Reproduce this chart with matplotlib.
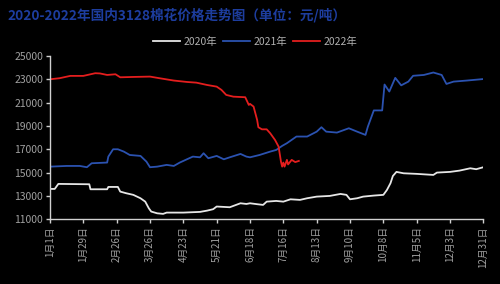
import matplotlib
matplotlib.use("Agg")
import matplotlib.pyplot as plt

plt.rcParams['font.family'] = ['Noto Sans CJK SC', 'DejaVu Sans']

title = "2020-2022年国内3128棉花价格走势图（单位：元/吨）"
tick_days = [0, 28, 56, 84, 112, 140, 168, 196, 224, 252, 280, 308, 336, 364]
tick_labels = ["1月1日", "1月29日", "2月26日", "3月26日", "4月23日", "5月21日", "6月18日",
               "7月16日", "8月13日", "9月10日", "10月8日", "11月5日", "12月3日", "12月31日"]
y_ticks = [11000, 13000, 15000, 17000, 19000, 21000, 23000, 25000]

days_2020 = [0, 4, 7, 33, 34, 48, 49, 57, 59, 64, 70, 76, 80, 83, 85, 90, 95, 98, 112, 126,
             132, 137, 140, 151, 160, 165, 168, 174, 179, 182, 190, 196, 202, 210, 216, 224,
             235, 244, 249, 252, 258, 263, 272, 280, 283, 286, 288, 291, 297, 308, 322, 325,
             336, 344, 353, 358, 364]
vals_2020 = [13600, 13600, 14030, 14000, 13570, 13570, 13770, 13770, 13370, 13230, 13090,
             12800, 12510, 11940, 11660, 11510, 11460, 11570, 11570, 11630, 11740, 11860,
             12090, 12030, 12370, 12310, 12370, 12290, 12230, 12510, 12570, 12510, 12710,
             12660, 12800, 12940, 13000, 13170, 13090, 12710, 12800, 12940, 13030, 13090,
             13510, 14090, 14710, 15060, 14940, 14890, 14800, 15000, 15060, 15170, 15370,
             15290, 15460]

days_2021 = [0, 14, 25, 31, 35, 48, 49, 53, 57, 62, 67, 76, 81, 84, 90, 98, 104, 109, 115,
             120, 126, 129, 133, 140, 146, 151, 160, 165, 168, 176, 185, 190, 195, 199, 207,
             216, 224, 228, 232, 241, 251, 258, 265, 267, 272, 279, 281, 285, 290, 295, 301,
             305, 314, 322, 329, 333, 339, 350, 364]
vals_2021 = [15510, 15570, 15570, 15460, 15800, 15860, 16370, 17000, 17000, 16800, 16510,
             16430, 15940, 15460, 15510, 15660, 15570, 15860, 16140, 16370, 16310, 16660,
             16230, 16430, 16140, 16310, 16600, 16370, 16310, 16510, 16800, 16940, 17290,
             17520, 18090, 18090, 18510, 18890, 18510, 18430, 18800, 18510, 18230, 18940,
             20330, 20330, 22550, 21950, 23120, 22480, 22800, 23300, 23370, 23580, 23370,
             22600, 22800, 22890, 23020]

days_2022 = [0, 8, 17, 28, 38, 42, 48, 55, 59, 70, 84, 92, 104, 115, 123, 132, 140, 144,
             148, 154, 164, 167, 168, 171, 174, 175, 178, 182, 185, 189, 192, 194, 195, 196,
             197, 199, 200, 203, 206, 209]
vals_2022 = [23000, 23090, 23290, 23290, 23520, 23500, 23370, 23430, 23170, 23200, 23230,
             23090, 22890, 22770, 22710, 22510, 22370, 22090, 21660, 21510, 21460, 20800,
             20890, 20660, 19510, 18890, 18710, 18710, 18370, 17800, 17230, 15940, 15510,
             15860, 15510, 16090, 15700, 16090, 15900, 16000]

series = [("2020年", days_2020, vals_2020, "#e6e6e6"),
          ("2021年", days_2021, vals_2021, "#2b52b0"),
          ("2022年", days_2022, vals_2022, "#e41e1e")]

fig = plt.figure(figsize=(5.0, 2.84), dpi=100, facecolor="black")
ax = fig.add_axes([0.1, 0.228, 0.8667, 0.575], facecolor="black")

for label, d, v, c in series:
    ax.plot(d, v, color=c, lw=1.3, label=label)

ax.set_xlim(0, 364)
ax.set_ylim(11000, 25000)
ax.set_xticks(tick_days)
ax.set_xticklabels(tick_labels, rotation=90, fontsize=7, color="#a0a0a0")
ax.set_yticks(y_ticks)
ax.set_yticklabels([str(t) for t in y_ticks], fontsize=7.5, color="#a0a0a0")
for s in ["top", "right"]:
    ax.spines[s].set_visible(False)
for s in ["left", "bottom"]:
    ax.spines[s].set_color("#d0d0d0")
    ax.spines[s].set_linewidth(1.0)
ax.tick_params(axis="both", colors="#d0d0d0", length=3, width=1.0, pad=2)
ax.tick_params(axis="x", labelcolor="#a0a0a0")
ax.tick_params(axis="y", labelcolor="#a0a0a0")

fig.text(0.014, 0.945, title, color="#1d3d9e", fontsize=9.8, fontweight="bold",
         ha="left", va="center")

fig.legend(loc="center", bbox_to_anchor=(0.51, 0.852), ncol=3, frameon=False,
           fontsize=7.5, labelcolor="#b0b0b0", handlelength=2.6, handletextpad=0.3,
           columnspacing=0.6)

fig.savefig("out.png", dpi=100, facecolor="black")
